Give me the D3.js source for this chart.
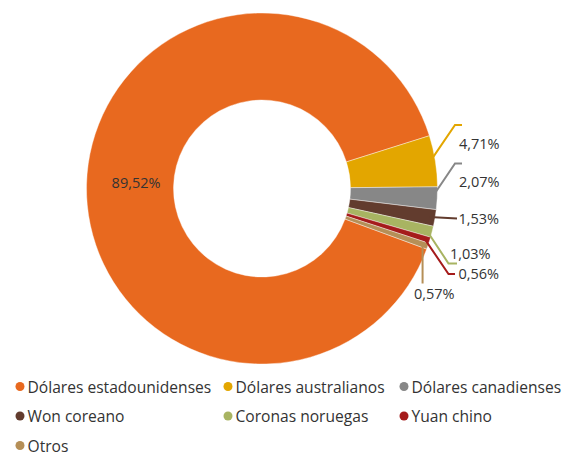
<!DOCTYPE html>
<html><head><meta charset="utf-8">
<script src="https://cdn.jsdelivr.net/npm/d3@7"></script>
<style>body{margin:0;background:#fff}svg{display:block}</style>
</head><body><svg id="c" width="566" height="452"></svg>
<script>
const categories = ["Dólares estadounidenses","Dólares australianos","Dólares canadienses","Won coreano","Coronas noruegas","Yuan chino","Otros"];
const values = [89.52, 4.71, 2.07, 1.53, 1.03, 0.56, 0.57];
const valueLabels = ["89,52%","4,71%","2,07%","1,53%","1,03%","0,56%","0,57%"];
const colors = ["#E8691F","#E3A600","#878787","#623C2E","#A8B462","#A51B1B","#B58F57"];

// layout (annotation placement for the small-slice labels)
const labelLayout = [
  null,
  {pts:[[455,125],[462,125]], text:[459,143.5]},
  {pts:[[455,163.5],[462,163.5]], text:[459,181]},
  {pts:[[457,218.5]], text:[458.5,218.5]},
  {pts:[[448.5,263.5],[457,263.5]], text:[450,253.5]},
  {pts:[[448.5,274],[455,274]], text:[458.5,273.5]},
  {pts:[null,[null,283.5]], text:[414,293.5]}
];

const svg = d3.select("#c");
const font = "'Open Sans', 'Noto Sans', sans-serif";
const cx = 262, cy = 188.5, rOuter = 175.5, rInner = 88.5;
const start = 110.2 * Math.PI / 180;

const pie = d3.pie().sort(null).value(d => d).startAngle(start).endAngle(start + 2 * Math.PI);
const arcs = pie(values);
const arc = d3.arc().innerRadius(rInner).outerRadius(rOuter);
const g = svg.append("g").attr("transform", `translate(${cx},${cy})`);

g.selectAll("path.slice").data(arcs).join("path")
  .attr("class", "slice")
  .attr("d", arc)
  .attr("fill", (d, i) => colors[i])
  .attr("stroke", "#fff").attr("stroke-width", 0.4);

// main label
const cen = arc.centroid(arcs[0]);
g.append("text")
  .attr("x", cen[0] + 6).attr("y", cen[1] - 3)
  .attr("text-anchor", "middle").attr("dominant-baseline", "central")
  .attr("font-family", font).attr("font-size", 14.5).attr("fill", "#333")
  .text(valueLabels[0]);

// small labels with leader lines
arcs.forEach((a, i) => {
  const L = labelLayout[i];
  if (!L) return;
  const mid = (a.startAngle + a.endAngle) / 2;
  const r0 = 170;
  const sx = cx + r0 * Math.sin(mid), sy = cy - r0 * Math.cos(mid);
  const pts = [[sx, sy]];
  L.pts.forEach(p => {
    if (p === null) return;
    pts.push([p[0] === null ? sx : p[0], p[1]]);
  });
  svg.append("path")
    .attr("d", d3.line()(pts))
    .attr("fill", "none").attr("stroke", colors[i]).attr("stroke-width", 2);
  svg.append("text")
    .attr("x", L.text[0]).attr("y", L.text[1])
    .attr("dominant-baseline", "central")
    .attr("font-family", font).attr("font-size", 14.5).attr("fill", "#333")
    .text(valueLabels[i]);
});

// legend
const colX = [20, 228, 404];
const rowY0 = 386.5, rowStep = 29.5;
const leg = svg.append("g");
categories.forEach((c, i) => {
  const x = colX[i % 3], y = rowY0 + Math.floor(i / 3) * rowStep;
  leg.append("circle").attr("cx", x).attr("cy", y).attr("r", 4.5).attr("fill", colors[i]);
  leg.append("text").attr("x", x + 7.5).attr("y", y)
    .attr("dominant-baseline", "central")
    .attr("font-family", font).attr("font-size", 15.6).attr("fill", "#333")
    .text(c);
});
</script></body></html>
